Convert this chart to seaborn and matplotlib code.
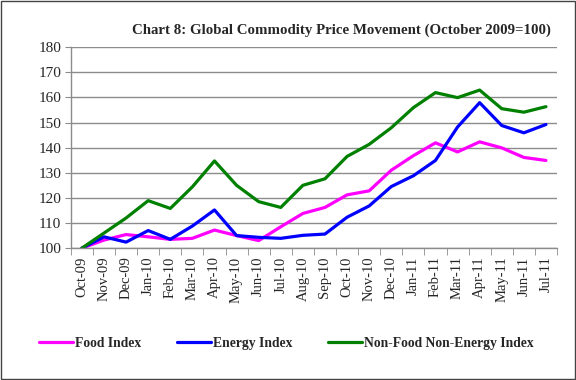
import matplotlib
matplotlib.use("Agg")
import matplotlib.pyplot as plt
import numpy as np
import pandas as pd
import seaborn as sns
from matplotlib.patches import Rectangle

MONTHS = ["Oct-09", "Nov-09", "Dec-09", "Jan-10", "Feb-10", "Mar-10", "Apr-10",
          "May-10", "Jun-10", "Jul-10", "Aug-10", "Sep-10", "Oct-10", "Nov-10",
          "Dec-10", "Jan-11", "Feb-11", "Mar-11", "Apr-11", "May-11", "Jun-11",
          "Jul-11"]

FOOD = [100, 103.2, 105.4, 104.5, 103.5, 103.9, 107.2, 105, 103, 108.5, 113.8,
        116.2, 121.2, 122.8, 131, 136.8, 141.9, 138.3, 142.3, 139.9, 136.1, 134.9]
ENERGY = [100, 104.5, 102.4, 107, 103.5, 108.8, 115.2, 105, 104.3, 103.9, 105.1,
          105.6, 112.3, 116.8, 124.5, 128.8, 134.9, 148.2, 157.9, 148.8, 145.9, 149.2]
NONFOOD = [100, 106, 112, 118.9, 115.8, 124.4, 134.7, 125, 118.5, 116.2, 125,
           127.6, 136.5, 141.3, 147.9, 155.9, 161.9, 159.9, 162.9, 155.5, 154.1, 156.3]

SERIES = ["Food Index", "Energy Index", "Non-Food Non-Energy Index"]
COLORS = ["#ff00ff", "#0000ff", "#008000"]

sns.set_style("white")
plt.rcParams["font.family"] = ["Liberation Serif", "DejaVu Serif"]

idx = np.arange(len(MONTHS))
df = pd.concat([
    pd.DataFrame({"x": idx, "value": vals, "series": name})
    for name, vals in zip(SERIES, [FOOD, ENERGY, NONFOOD])
])

fig = plt.figure(figsize=(5.76, 3.8), dpi=100)
ax = fig.add_axes([0.123, 0.347, 0.844, 0.529])

sns.lineplot(data=df, x="x", y="value", hue="series", palette=COLORS,
             linewidth=2.3, ax=ax, legend=True)

ax.set_xlim(-0.5, len(MONTHS) - 0.5)
ax.set_ylim(100, 180)
ax.set_yticks(range(100, 181, 10))
ax.yaxis.grid(True, color="#8c8c8c", linewidth=1)
ax.set_axisbelow(True)
ax.set_xticks(idx)
ax.set_xticklabels(MONTHS, rotation=90, fontsize=10.5)
ax.set_xticks(np.arange(-0.5, len(MONTHS)), minor=True)
ax.tick_params(axis="x", which="major", length=0, pad=6)
ax.tick_params(axis="x", which="minor", length=5, color="#8c8c8c", direction="out", bottom=True)
ax.tick_params(axis="y", length=4, color="#8c8c8c", labelsize=11, pad=3, left=True)
ax.set_xlabel("")
ax.set_ylabel("")
for s in ["top", "right"]:
    ax.spines[s].set_visible(False)
for s in ["left", "bottom"]:
    ax.spines[s].set_color("#8c8c8c")
    ax.spines[s].set_linewidth(1)

ax.get_legend().remove()
handles, labels = ax.get_legend_handles_labels()
fig.legend(handles, labels, loc="center", bbox_to_anchor=(0.497, 0.097), ncol=3,
           frameon=False, handlelength=2.5, columnspacing=2.6,
           handletextpad=0.15, prop={"weight": "bold", "size": 9.8})

fig.text(0.592, 0.921, "Chart 8: Global Commodity Price Movement (October 2009=100)",
         ha="center", va="center", fontsize=10.7, fontweight="bold")

fig.patches.append(Rectangle((0.002, 0.003), 0.996, 0.994, transform=fig.transFigure,
                             fill=False, edgecolor="#444444", linewidth=1))

fig.savefig("out.png", dpi=100)
